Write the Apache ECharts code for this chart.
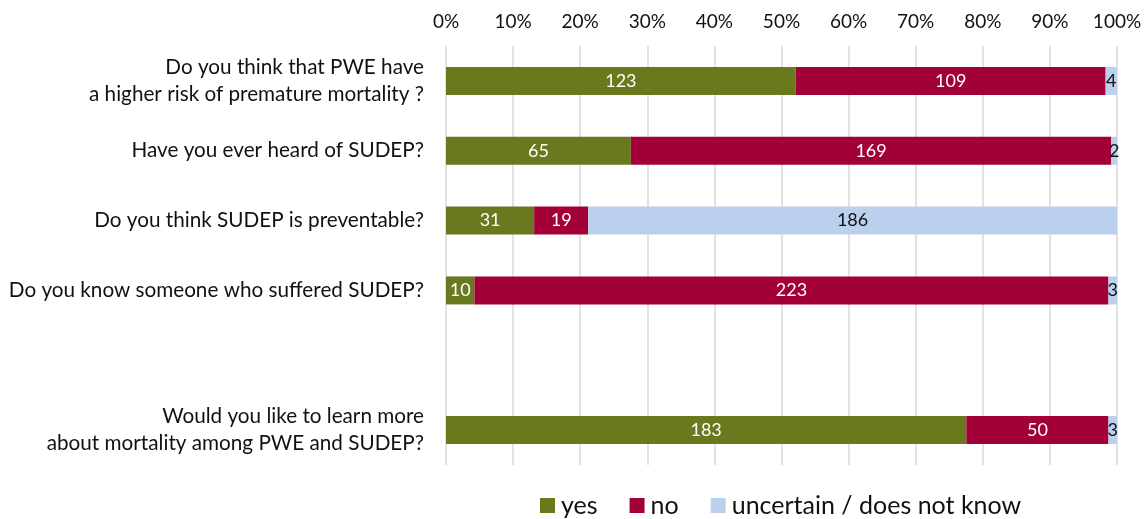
<!DOCTYPE html>
<html>
<head>
<meta charset="utf-8">
<script src="https://cdn.jsdelivr.net/npm/echarts@6/dist/echarts.min.js"></script>
<style>
html,body{margin:0;padding:0;background:#fff;}
#chart{width:1145px;height:519px;}
</style>
</head>
<body>
<div id="chart"></div>
<script>
var categories = [
  'Do you think that PWE have\na higher risk of premature mortality ?',
  'Have you ever heard of SUDEP?',
  'Do you think SUDEP is preventable?',
  'Do you know someone who suffered SUDEP?',
  '',
  'Would you like to learn more\nabout mortality among PWE and SUDEP?'
];
var yesCounts = [123, 65, 31, 10, null, 183];
var noCounts = [109, 169, 19, 223, null, 50];
var uncertainCounts = [4, 2, 186, 3, null, 3];
var seriesNames = ['yes', 'no', 'uncertain / does not know'];
var colors = ['#6A791E', '#A3003A', '#BBD0EC'];
var labelColors = ['#ffffff', '#ffffff', '#111111'];

var FONT = 'Lato';
var all = [yesCounts, noCounts, uncertainCounts];
var totals = categories.map(function (c, i) {
  var t = 0; all.forEach(function (a) { t += (a[i] || 0); }); return t;
});

var series = all.map(function (counts, s) {
  return {
    name: seriesNames[s],
    type: 'bar',
    stack: 'total',
    barWidth: 28,
    itemStyle: { color: colors[s] },
    label: {
      show: true,
      position: 'inside',
      color: labelColors[s],
      fontFamily: FONT,
      fontSize: 18,
      formatter: function (p) { return counts[p.dataIndex]; }
    },
    data: counts.map(function (v, i) {
      return v == null ? null : v / totals[i] * 100;
    })
  };
});

var chart = echarts.init(document.getElementById('chart'));
chart.setOption({
  animation: false,
  textStyle: { fontFamily: FONT },
  grid: { left: 446, right: 28, top: 46, bottom: 54, containLabel: false },
  legend: {
    data: seriesNames,
    left: 540,
    top: 493,
    padding: 0,
    icon: 'rect',
    itemWidth: 15,
    itemHeight: 15,
    itemGap: 32,
    textStyle: { fontFamily: FONT, fontSize: 25, color: '#111', padding: [0, 0, 0, 1] }
  },
  xAxis: {
    type: 'value',
    position: 'top',
    min: 0,
    max: 100,
    interval: 10,
    axisLine: { show: false },
    axisTick: { show: false },
    axisLabel: { formatter: '{value}%', fontFamily: FONT, fontSize: 19, color: '#111', margin: 15 },
    splitLine: { show: true, lineStyle: { color: '#D9D9D9', width: 1.5 } }
  },
  yAxis: {
    type: 'category',
    inverse: true,
    data: categories,
    axisLine: { show: false },
    axisTick: { show: false },
    axisLabel: { fontFamily: FONT, fontSize: 20.7, color: '#111', margin: 22, lineHeight: 27, align: 'right' }
  },
  series: series
});
</script>
</body>
</html>
